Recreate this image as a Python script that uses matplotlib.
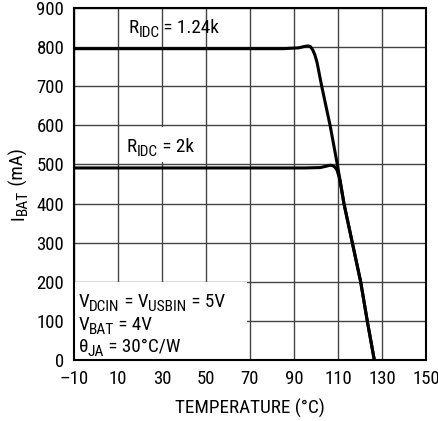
import matplotlib
matplotlib.use("Agg")
import matplotlib.pyplot as plt
import matplotlib.font_manager as fm
from matplotlib.patches import Rectangle
from matplotlib.transforms import offset_copy

installed = {f.name for f in fm.fontManager.ttflist}
fam = 'Liberation Sans'
for cand in ['Nimbus Sans Narrow', 'Liberation Sans Narrow', 'Roboto Condensed', 'Archivo Narrow',
             'PT Sans Narrow', 'Arimo']:
    if cand in installed:
        fam = cand
        break
FAMS = [fam, 'DejaVu Sans']
plt.rcParams['font.family'] = FAMS

# Data
temp_124k = [-10, 85, 92, 95, 96.5, 97.5, 98.5, 99.5, 100.5, 102.6, 106.4, 109.7, 112.7, 120.3, 123.3, 126.5]
ibat_124k = [796, 796, 798, 802, 803, 801, 793, 780, 760, 700, 600, 500, 400, 200, 100, 0]
temp_2k = [-10, 95, 102, 105, 106.5, 107.5, 108.5, 109.5, 110.3, 111, 112.7, 120.3, 123.3, 126.5]
ibat_2k = [491, 491, 492, 496, 498, 497, 494, 486, 472, 457, 400, 200, 100, 0]

xticks = [-10, 10, 30, 50, 70, 90, 110, 130, 150]
xticklabels = ['\u201310', '10', '30', '50', '70', '90', '110', '130', '150']
yticks = [0, 100, 200, 300, 400, 500, 600, 700, 800, 900]

FS = 13.8
TFS = 13.5
DPI = 100
W, H = 439, 421

fig = plt.figure(figsize=(W / DPI, H / DPI), dpi=DPI)
ax = fig.add_axes([74 / W, 1 - 360 / H, (426 - 74) / W, (360 - 8) / H])

ax.set_xlim(-10, 150)
ax.set_ylim(0, 900)
ax.set_xticks(xticks)
ax.set_xticklabels(xticklabels)
ax.set_yticks(yticks)
ax.tick_params(length=0, labelsize=TFS, pad=7)
ax.grid(True, color='#444444', linewidth=1.0)
ax.set_axisbelow(True)
for s in ax.spines.values():
    s.set_linewidth(1.5)
    s.set_color('black')

# white panels behind labels
ax.add_patch(Rectangle((-10, 0), 78.6, 200, facecolor='white', edgecolor='none', zorder=1.5))
ax.add_patch(Rectangle((12, 507), 34, 88, facecolor='white', edgecolor='none', zorder=1.5))

ax.plot(temp_124k, ibat_124k, color='black', linewidth=2.2, zorder=3)
ax.plot(temp_2k, ibat_2k, color='black', linewidth=2.2, zorder=3)

renderer = fig.canvas.get_renderer()
SUB_SCALE = 0.8
SUB_DROP = 3.8  # pixels


def rich(x, y, parts, base_transform, rotation=0, fs=FS):
    """Draw text pieces; pieces flagged True are subscripts."""
    adv = 0.0
    for s, sub in parts:
        size = fs * SUB_SCALE if sub else fs
        drop = SUB_DROP if sub else 0.0
        if rotation == 0:
            dx, dy = adv, -drop
        else:
            dx, dy = drop, adv
        tr = offset_copy(base_transform, fig=fig, x=dx, y=dy, units='dots')
        t = fig.text(x, y, s, transform=tr, fontsize=size, ha='left', va='baseline',
                     rotation=rotation, rotation_mode='anchor', zorder=4, family=FAMS)
        ext = t.get_window_extent(renderer)
        adv += ext.width if rotation == 0 else ext.height
    return adv


rich(14.7, 835, [('R', False), ('IDC', True), (' = 1.24k', False)], ax.transData)
rich(13.95, 531, [('R', False), ('IDC', True), (' = 2k', False)], ax.transData)
rich(-8.0, 135, [('V', False), ('DCIN', True), (' = V', False), ('USBIN', True), (' = 5V', False)], ax.transData)
rich(-8.0, 77, [('V', False), ('BAT', True), (' = 4V', False)], ax.transData)
rich(-8.0, 21, [('\u03b8', False), ('JA', True), (' = 30\u00b0C/W', False)], ax.transData)

# x label
fig.text(250 / W, 7.7 / H, 'TEMPERATURE (\u00b0C)', fontsize=FS, ha='center', va='baseline', family=FAMS)

# y label (rotated, built from pieces, centred on the axis)
ylab_parts = [('I', False), ('BAT', True), (' (mA)', False)]
tmp = 0.0
for s, sub in ylab_parts:
    t = fig.text(0, 0, s, fontsize=FS * (SUB_SCALE if sub else 1))
    tmp += t.get_window_extent(renderer).width
    t.remove()
ycenter = H - 184
rich(23.3 / W, (ycenter - tmp / 2) / H, ylab_parts, fig.transFigure, rotation=90)

fig.savefig('out.png', dpi=DPI)
